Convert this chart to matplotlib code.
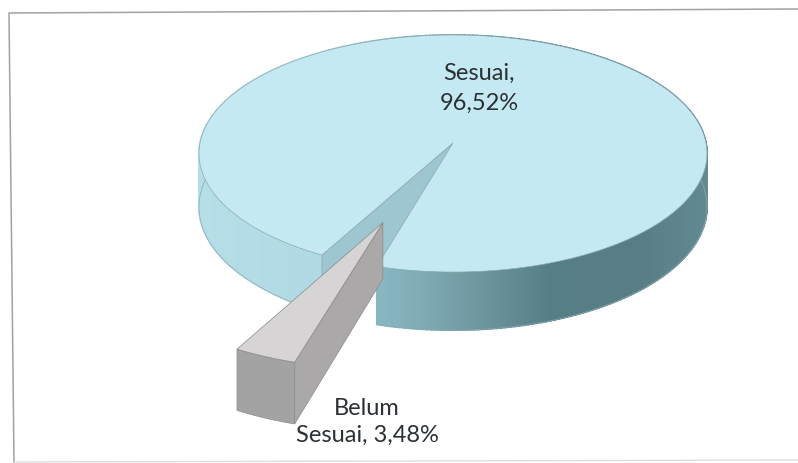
import numpy as np
import matplotlib
matplotlib.use("Agg")
import matplotlib.pyplot as plt

# Chart values
labels = ["Sesuai,\n96,52%", "Belum\nSesuai, 3,48%"]
shares = [96.52, 3.48]

# Pie geometry in pixels (3D pie with a bit of perspective)
CX, CY = 453, 143
RX, RY = 253, 117.6
PERSP = 0.0886
DEPTH = 53
EXPLODE = 0.69
GAP_START = 16.0  # degrees, from the front of the pie going clockwise

TOP_BLUE = "#c5e9f3"
INNER_BLUE = "#9ec6d1"
EDGE_BLUE = "#8aa9b1"
EDGE_GREY = "#8a8a8a"

# wall shade depends on the x position along the rim
shade_x = [199, 320, 377, 430, 480, 550, 640, 708]
shade_rgb = np.array([
    [182, 222, 231], [176, 217, 227], [138, 184, 194], [124, 168, 177],
    [110, 150, 158], [86, 126, 133], [88, 126, 133], [98, 138, 146],
]) / 255


def project(theta, radius=1.0, shift=(0.0, 0.0), z=0.0):
    t = np.radians(theta)
    u = shift[0] - radius * np.sin(t)
    v = shift[1] + radius * np.cos(t)
    w = 1 / (1 - PERSP * v)
    return CX + RX * u * w, CY + RY * v * w + z * w


def wall_colour(x):
    return [float(np.interp(x, shade_x, shade_rgb[:, i])) for i in range(3)]


def draw_main(ax, start, stop):
    angles = np.linspace(start, stop, 361)

    # side wall, one thin strip at a time for the gradient
    xt, yt = project(angles)
    xb, yb = project(angles, z=DEPTH)
    for i in range(len(angles) - 1):
        col = wall_colour((xt[i] + xt[i + 1]) / 2)
        ax.fill([xt[i], xt[i + 1], xb[i + 1], xb[i]],
                [yt[i], yt[i + 1], yb[i + 1], yb[i]],
                color=col, lw=1.2, zorder=1)
    ax.plot(xb, yb, color=EDGE_BLUE, lw=0.5, zorder=1.1)

    # cut wall which faces the viewer
    x0, y0 = project(start, radius=0)
    x0b, y0b = project(start, radius=0, z=DEPTH)
    ax.fill([x0, xt[0], xb[0], x0b], [y0, yt[0], yb[0], y0b],
            facecolor=INNER_BLUE, edgecolor=EDGE_BLUE, lw=0.5, zorder=2)

    # top face
    ax.fill(np.r_[x0, xt], np.r_[y0, yt], facecolor=TOP_BLUE,
            edgecolor=EDGE_BLUE, lw=0.5, zorder=3)


def draw_exploded(ax, start, stop):
    mid = np.radians((start + stop) / 2)
    shift = (-EXPLODE * np.sin(mid), EXPLODE * np.cos(mid))
    angles = np.linspace(start, stop, 20)

    xt, yt = project(angles, shift=shift)
    xb, yb = project(angles, shift=shift, z=DEPTH)
    x0, y0 = project(0, radius=0, shift=shift)
    x0b, y0b = project(0, radius=0, shift=shift, z=DEPTH)

    # right cut wall
    ax.fill([x0, xt[0], xb[0], x0b], [y0, yt[0], yb[0], y0b],
            facecolor="#aaa8a8", edgecolor=EDGE_GREY, lw=0.5, zorder=4)
    # outer wall
    ax.fill(np.r_[xt, xb[::-1]], np.r_[yt, yb[::-1]],
            facecolor="#a4a3a3", edgecolor=EDGE_GREY, lw=0.5, zorder=5)
    # top face
    ax.fill(np.r_[x0, xt], np.r_[y0, yt], facecolor="#d6d4d4",
            edgecolor=EDGE_GREY, lw=0.5, zorder=6)


def main():
    plt.rcParams["font.family"] = ["Lato", "DejaVu Sans"]

    fig = plt.figure(figsize=(7.98, 4.63), dpi=100)
    ax = fig.add_axes([0, 0, 1, 1])
    ax.set_xlim(0, 798)
    ax.set_ylim(463, 0)
    ax.axis("off")

    # scanned chart frame, slightly skewed
    ax.plot([14, 9, 798], [462, 13, 9], color="#a2a2a2", lw=1.1, zorder=0)
    ax.plot([14, 798], [462, 460], color="#dddddd", lw=1.0, zorder=0)

    gap = shares[1] / sum(shares) * 360
    draw_main(ax, GAP_START + gap, GAP_START + 360)
    draw_exploded(ax, GAP_START, GAP_START + gap)

    ax.text(479, 88.5, labels[0], ha="center", va="center", fontsize=17,
            color="#2b3034", linespacing=1.5, zorder=7)
    ax.text(367, 422, labels[1], ha="center", va="center", fontsize=17,
            color="#2b3034", linespacing=1.37, zorder=7)

    fig.savefig("out.png", dpi=100)


if __name__ == "__main__":
    main()
